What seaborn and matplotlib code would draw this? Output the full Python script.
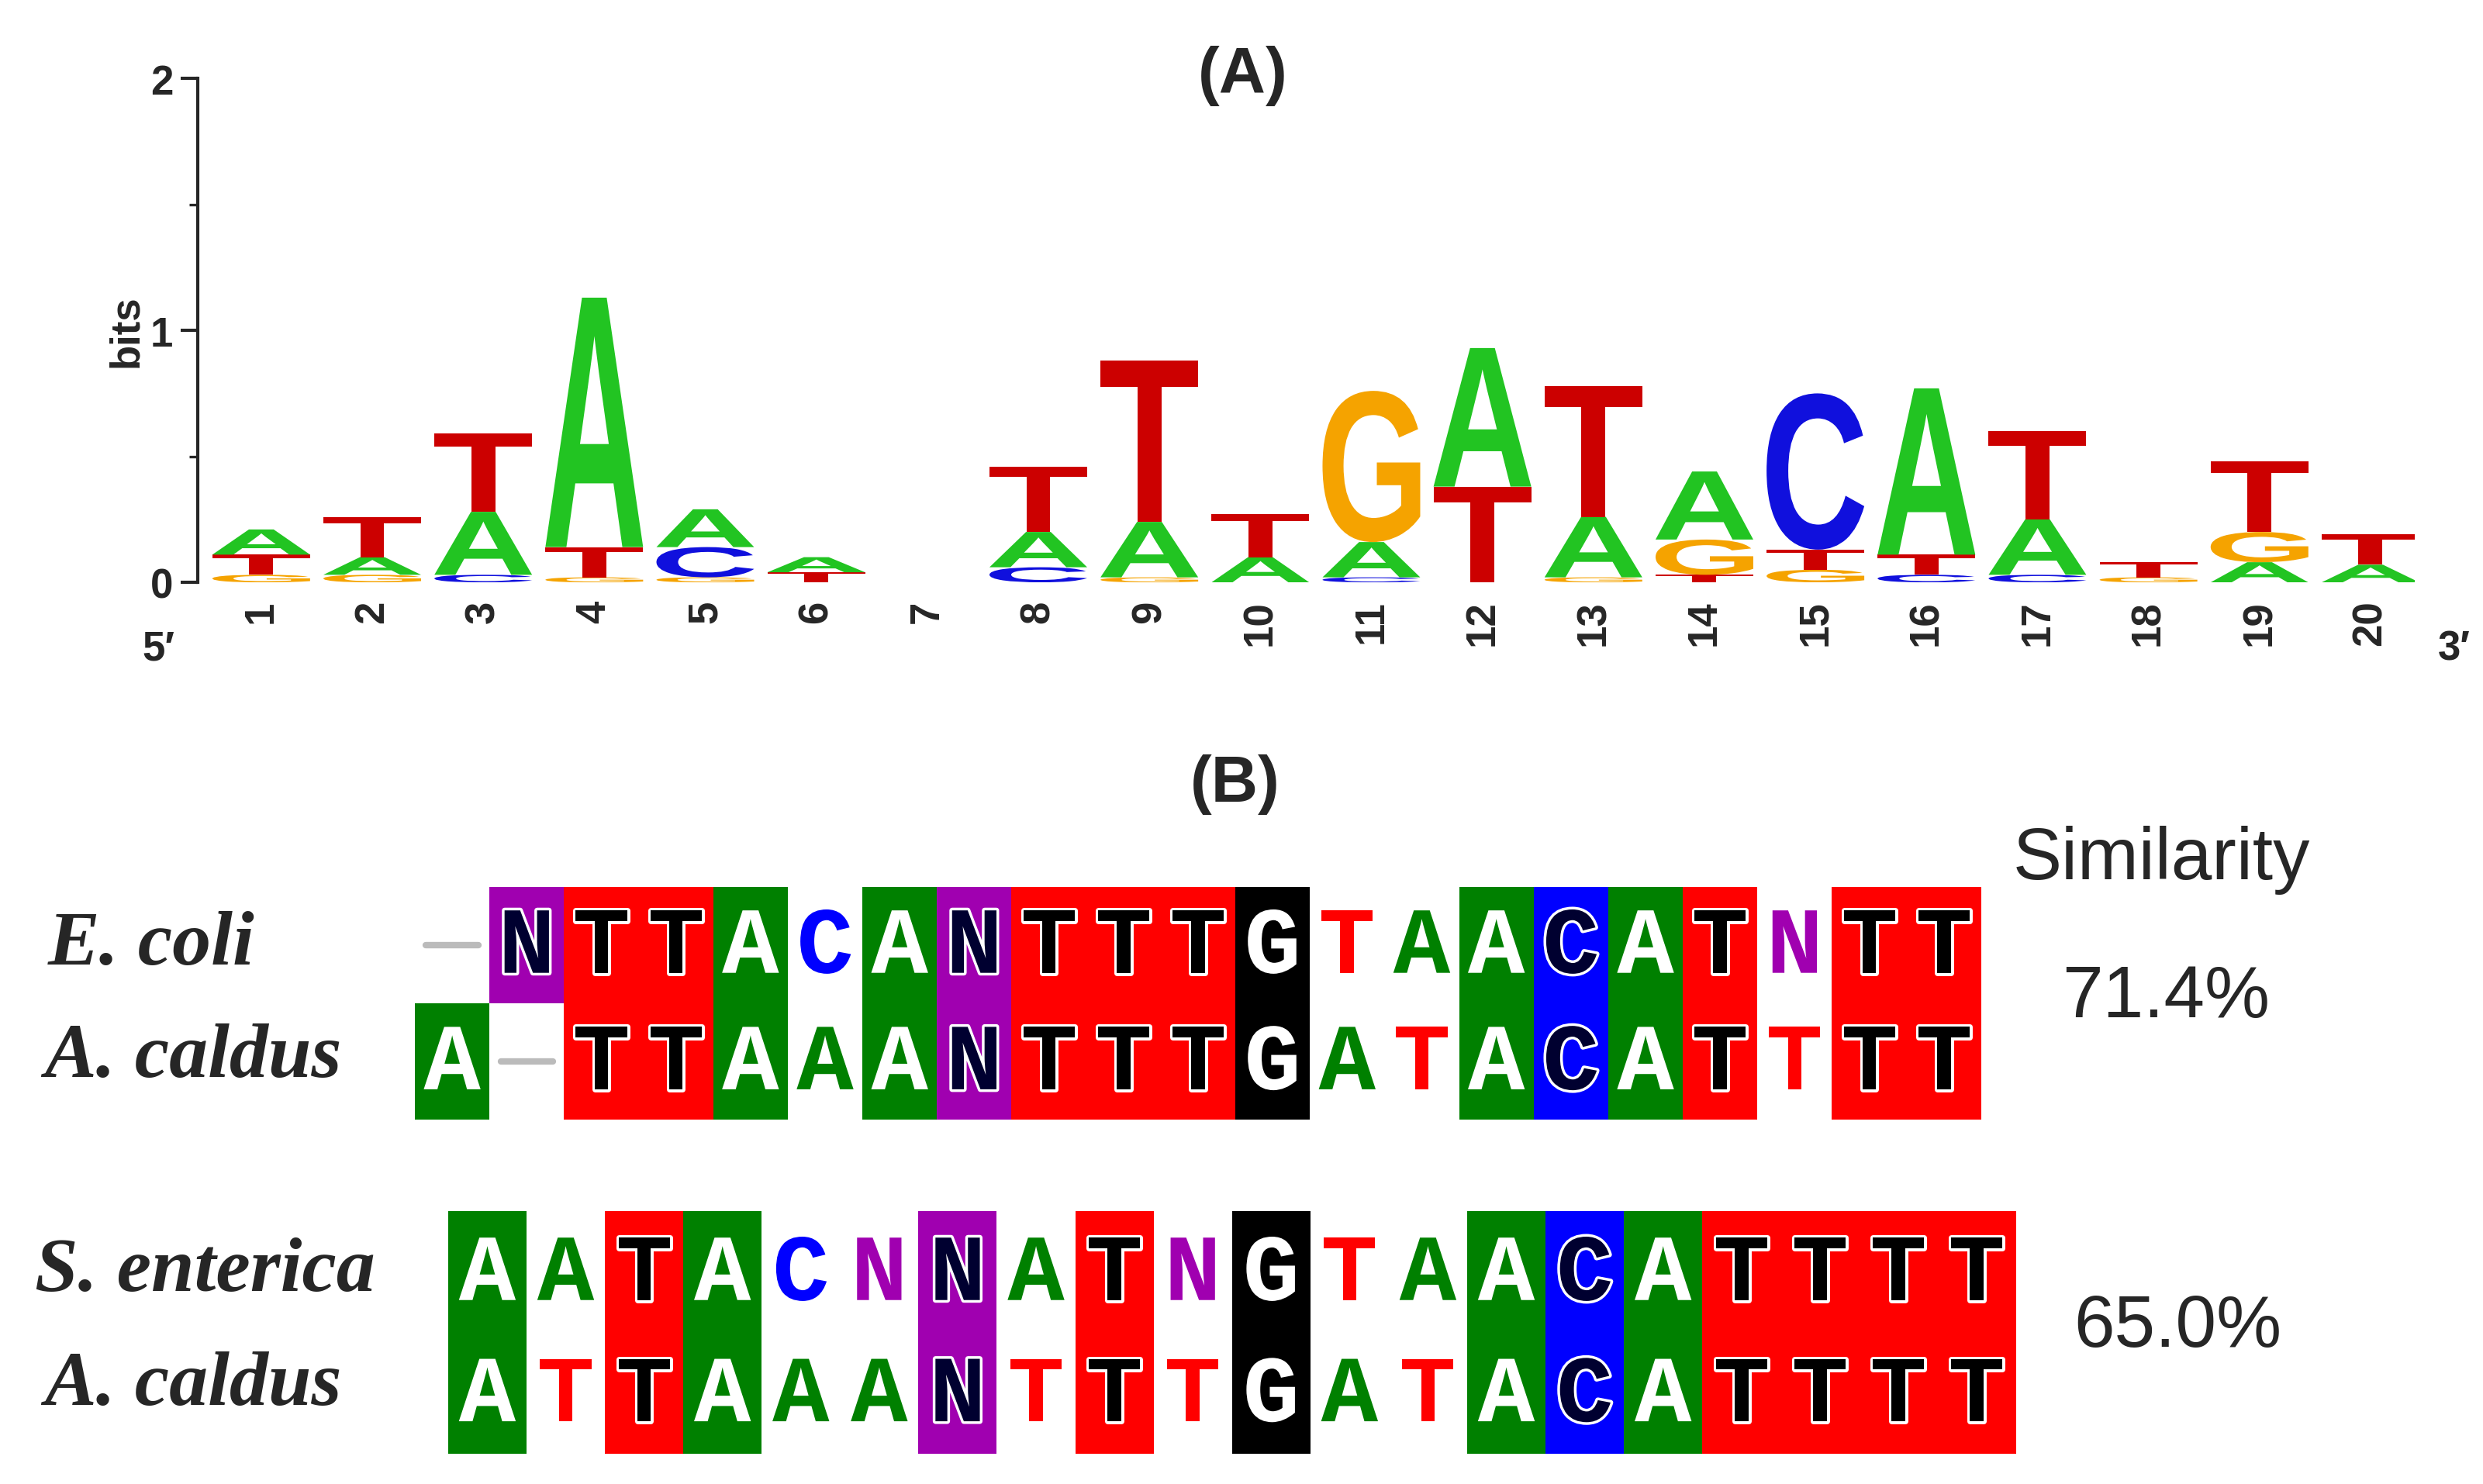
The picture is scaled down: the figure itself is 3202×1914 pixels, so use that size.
import matplotlib
matplotlib.use("Agg")
import matplotlib.pyplot as plt
import seaborn as sns
from matplotlib.textpath import TextPath
from matplotlib.patches import PathPatch, Rectangle
from matplotlib.font_manager import FontProperties
from matplotlib.transforms import Affine2D
import matplotlib.patheffects as pe

# ---- data: sequence logo (letter, bits) stacked bottom to top ----
positions = list(range(1, 21))
logo_stacks = [
    [('G', 0.03), ('T', 0.08), ('A', 0.10)],
    [('G', 0.03), ('A', 0.07), ('T', 0.16)],
    [('C', 0.03), ('A', 0.25), ('T', 0.31)],
    [('G', 0.02), ('T', 0.12), ('A', 0.99)],
    [('G', 0.02), ('C', 0.12), ('A', 0.15)],
    [('T', 0.04), ('A', 0.06)],
    [],
    [('C', 0.06), ('A', 0.14), ('T', 0.26)],
    [('G', 0.02), ('A', 0.22), ('T', 0.64)],
    [('A', 0.10), ('T', 0.17)],
    [('C', 0.02), ('A', 0.14), ('G', 0.60)],
    [('T', 0.38), ('A', 0.55)],
    [('G', 0.02), ('A', 0.24), ('T', 0.52)],
    [('T', 0.03), ('G', 0.14), ('A', 0.27)],
    [('G', 0.05), ('T', 0.08), ('C', 0.62)],
    [('C', 0.03), ('T', 0.08), ('A', 0.66)],
    [('C', 0.03), ('A', 0.22), ('T', 0.35)],
    [('G', 0.02), ('T', 0.06)],
    [('A', 0.08), ('G', 0.12), ('T', 0.28)],
    [('A', 0.07), ('T', 0.12)],
]

# ---- data: alignments ----
ecoli_seq =     "-NTTACANTTTGTAACATNTT"
caldus_seq1 =   "A-TTAAANTTTGATACATTTT"
senterica_seq = "AATACNNATNGTAACATTTT"
caldus_seq2 =   "ATTAAANTTTGATACATTTT"
similarity = ["71.4%", "65.0%"]

logo_colors = {'A': '#22c422', 'C': '#1010dd', 'G': '#f5a300', 'T': '#cc0000'}
bg_colors = {'A': '#008000', 'C': '#0000ff', 'G': '#000000', 'T': '#ff0000', 'N': '#a000b0'}
txt_colors = {'A': '#008000', 'C': '#0000ff', 'G': '#000000', 'T': '#ff0000', 'N': '#a000b0'}
on_bg = {'A': 'white', 'C': '#000030', 'G': 'white', 'T': 'black', 'N': '#000030'}

sns.set_style("ticks")
plt.rcParams['font.family'] = ['Liberation Sans', 'DejaVu Sans']

fig = plt.figure(figsize=(16.01, 9.575), dpi=200)
W, H = 1568, 937

# overlay axes in reference pixel units
ov = fig.add_axes([0, 0, 1, 1])
ov.set_xlim(0, W)
ov.set_ylim(H, 0)
ov.axis('off')

# ---- (A) logo ----
ax = fig.add_axes([125 / W, 1 - 368 / H, 1400 / W, 318 / H])
ax.patch.set_alpha(0)
fp = FontProperties(family='Liberation Sans', weight='bold')
for pos, stack in zip(positions, logo_stacks):
    bottom = 0.0
    for letter, h in stack:
        tp = TextPath((0, 0), letter, size=1, prop=fp)
        bb = tp.get_extents()
        w = 0.88
        tr = (Affine2D().translate(-bb.x0, -bb.y0)
              .scale(w / bb.width, h / bb.height)
              .translate(pos - w / 2, bottom))
        ax.add_patch(PathPatch(tr.transform_path(tp), color=logo_colors[letter], lw=0))
        bottom += h
ax.set_xlim(0.43, 20.4)
ax.set_ylim(0, 2)
ax.set_yticks([0, 1, 2])
ax.set_yticks([0.5, 1.5], minor=True)
ax.set_yticklabels(['0', '1', '2'], fontsize=19, fontweight='bold')
ax.tick_params(axis='y', which='major', length=8, width=1.5)
ax.tick_params(axis='y', which='minor', length=4, width=1.2)
ax.set_xticks(positions)
ax.set_xticklabels([str(p) for p in positions], rotation=90, fontsize=19, fontweight='bold')
ax.tick_params(axis='x', length=0, pad=8)
ax.set_ylabel('bits', fontsize=19, fontweight='bold', labelpad=2)
sns.despine(ax=ax, bottom=True)
ax.spines['left'].set_linewidth(1.5)

ov.text(785, 48, '(A)', fontsize=30, fontweight='bold', ha='center', va='center')
ov.text(100, 410, '5\u2032', fontsize=19, fontweight='bold', ha='center', va='center')
ov.text(1550, 410, '3\u2032', fontsize=19, fontweight='bold', ha='center', va='center')

# ---- (B) alignments ----
ov.text(780, 495, '(B)', fontsize=30, fontweight='bold', ha='center', va='center')
ov.text(1365, 543, 'Similarity', fontsize=34, ha='center', va='center')


def draw_block(seq_a, seq_b, x0, cw, y0, rh):
    for i, (a, b) in enumerate(zip(seq_a, seq_b)):
        for r, (c, o) in enumerate([(a, b), (b, a)]):
            x = x0 + i * cw
            y = y0 + r * rh
            if c == '-':
                ov.plot([x + cw * 0.15, x + cw * 0.85], [y + rh / 2, y + rh / 2],
                        color='#bbbbbb', lw=3)
                continue
            filled = (c == o) or (o == '-')
            if filled:
                ov.add_patch(Rectangle((x, y), cw, rh, color=bg_colors[c], lw=0))
                col = on_bg[c]
                stroke = 'white' if col != 'white' else txt_colors[c]
            else:
                col = txt_colors[c]
                stroke = 'white'
            t = ov.text(x + cw / 2, y + rh / 2 + 2, c, fontsize=44, family='Liberation Mono',
                        fontweight='bold', color=col, ha='center', va='center')
            t.set_path_effects([pe.withStroke(linewidth=2.5, foreground=stroke)])


draw_block(ecoli_seq, caldus_seq1, 262, 47.1, 560, 73.5)
draw_block(senterica_seq, caldus_seq2, 283, 49.5, 765, 76.5)

lab = dict(fontsize=36, family='Liberation Serif', style='italic', fontweight='bold',
           ha='left', va='center')
ov.text(30, 597, 'E. coli', **lab)
ov.text(28, 668, 'A. caldus', **lab)
ov.text(22, 803, 'S. enterica', **lab)
ov.text(28, 875, 'A. caldus', **lab)
ov.text(1368, 630, similarity[0], fontsize=34, ha='center', va='center')
ov.text(1375, 838, similarity[1], fontsize=34, ha='center', va='center')

fig.savefig('out.png', dpi=200)
